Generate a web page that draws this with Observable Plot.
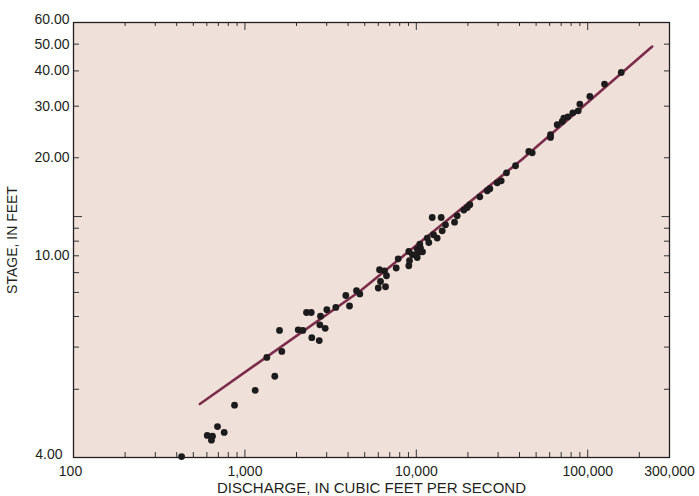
<!DOCTYPE html>
<html><head><meta charset="utf-8">
<script src="https://cdn.jsdelivr.net/npm/d3@7"></script>
<script src="https://cdn.jsdelivr.net/npm/@observablehq/plot@0.6"></script>
<style>body{margin:0;background:#fff;}</style>
</head><body><div id="chart"></div>
<script>
// Measured discharge (cfs) and stage (ft)
const discharge = [427, 603, 647, 638, 692, 757, 870, 1148, 1494, 1342, 1642, 1592, 2046, 2177, 2288, 2437, 2456, 2714, 2735, 2761, 2941, 3005, 3391, 3879, 4077, 4477, 4681, 5996, 6613, 6183, 6700, 6524, 6101, 7633, 7841, 9041, 9127, 9041, 10120, 10260, 10580, 10480, 10120, 11830, 11580, 13240, 12380, 13970, 14160, 14800, 16710, 17330, 18930, 19820, 20520, 23470, 25930, 26850, 29650, 31280, 33600, 37920, 45330, 47450, 60670, 60670, 66370, 71000, 72550, 76550, 81880, 88020, 89930, 102900, 125300, 156900, 9500, 10870, 12600];
const stage = [4.01, 4.26, 4.25, 4.20, 4.38, 4.30, 4.71, 4.98, 5.27, 5.72, 5.88, 6.51, 6.53, 6.51, 7.15, 7.15, 6.28, 6.19, 6.70, 7.01, 6.58, 7.26, 7.35, 7.86, 7.41, 8.08, 7.93, 8.21, 8.27, 8.53, 8.83, 9.10, 9.16, 9.26, 9.81, 9.39, 9.69, 10.28, 9.89, 10.21, 10.51, 10.79, 10.44, 10.90, 11.23, 11.23, 12.92, 12.92, 11.79, 12.28, 12.51, 13.07, 13.61, 13.86, 14.13, 14.96, 15.63, 15.86, 16.57, 16.82, 17.85, 18.82, 20.99, 20.78, 23.90, 23.40, 25.86, 26.54, 27.27, 27.55, 28.45, 28.91, 30.51, 32.45, 35.91, 39.49, 10.07, 10.26, 11.48];

// Rating curve
const ratingDischarge = [546, 4725, 41490, 237800];
const ratingStage = [4.73, 8.08, 19.77, 49.0];

// Axis ticks
const xTickLabels = [100, 1000, 10000, 100000, 300000];
const xMajorTicks = [1000, 10000, 100000];
const xMinorTicks = [200, 300, 400, 500, 600, 700, 800, 900, 2000, 3000, 4000, 5000, 6000, 7000, 8000, 9000, 20000, 30000, 40000, 50000, 60000, 70000, 80000, 90000, 200000];
const yTickLabels = [10, 20, 30, 40, 50];
const yBottomLabel = [4];
const yTopLabel = [60];
const yShortTicks = [5, 6, 7, 8, 9, 10, 11, 12, 20, 30, 40, 50];
const yLongTicks = [13];

const E = 2.8; // gage height of effective zero flow (axis offset)

const W = 699, H = 496, mL = 73, mR = 30, mT = 22, mB = 39;
const pw = W - mL - mR, ph = H - mT - mB;

const points = discharge.map((q, i) => ({q, g: stage[i]}));
const rating = ratingDischarge.map((q, i) => ({q, g: ratingStage[i]}));

const ink = "#231f20";
const tickStroke = "#333";
const fmtY = d => (d + E).toFixed(2);
const fmtX = d3.format(",");

const chart = Plot.plot({
  width: W, height: H,
  marginLeft: mL, marginRight: mR, marginTop: mT, marginBottom: mB,
  style: {fontFamily: "'Liberation Sans', Arial, Helvetica, sans-serif", fontSize: "14px", color: ink, background: "#fff"},
  x: {type: "log", domain: [99.999, 300002]},
  y: {type: "log", domain: [4 - E - 0.00001, 60 - E + 0.00001]},
  marks: [
    Plot.frame({fill: "#efe0da"}),
    // bottom ticks
    Plot.tickX(xMinorTicks, {x: d => d, insetTop: ph - 5, stroke: tickStroke}),
    Plot.tickX(xMajorTicks, {x: d => d, insetTop: ph - 7.5, stroke: tickStroke}),
    // top ticks
    Plot.tickX(xMinorTicks, {x: d => d, insetBottom: ph - 4, stroke: tickStroke}),
    Plot.tickX(xMajorTicks, {x: d => d, insetBottom: ph - 8, stroke: tickStroke}),
    // left ticks
    Plot.tickY(yShortTicks, {y: d => d - E, insetRight: pw - 6, stroke: tickStroke}),
    Plot.tickY(yLongTicks, {y: d => d - E, insetRight: pw - 9, stroke: tickStroke}),
    // right ticks
    Plot.tickY(yShortTicks, {y: d => d - E, insetLeft: pw - 5, stroke: tickStroke}),
    Plot.tickY(yLongTicks, {y: d => d - E, insetLeft: pw - 7.5, stroke: tickStroke}),
    // rating line
    Plot.line(rating, {x: "q", y: d => d.g - E, stroke: "#7b2d4a", strokeWidth: 2.6}),
    // measurements
    Plot.dot(points, {x: "q", y: d => d.g - E, r: 3.4, fill: "#1d1b1c", stroke: "none"}),
    // x tick labels
    Plot.text(xTickLabels.slice(1), {x: d => d, text: fmtX, frameAnchor: "bottom", lineAnchor: "top", dy: 9, fill: ink, fontSize: 14}),
    Plot.text(xTickLabels.slice(0, 1), {x: d => d, text: fmtX, frameAnchor: "bottom", lineAnchor: "top", dy: 9, dx: -3, fill: ink, fontSize: 14}),
    Plot.axisX([], {tickSize: 0, fill: ink, fontSize: 15,
      label: "DISCHARGE, IN CUBIC FEET PER SECOND", labelAnchor: "center", labelOffset: 35, labelArrow: "none"}),
    Plot.axisY(yTickLabels.map(d => d - E), {tickSize: 0, tickPadding: 4, tickFormat: fmtY, fill: ink,
      label: "STAGE, IN FEET", labelAnchor: "center", labelOffset: 66, labelArrow: "none"}),
    Plot.axisY(yBottomLabel.map(d => d - E), {tickSize: 0, tickPadding: 4, tickFormat: fmtY, fill: ink, dx: -7, dy: -3, label: null}),
    Plot.axisY(yTopLabel.map(d => d - E), {tickSize: 0, tickPadding: 4, tickFormat: fmtY, fill: ink, dy: -3, label: null}),
    Plot.frame({stroke: ink, strokeWidth: 1.3})
  ]
});
document.getElementById("chart").appendChild(chart);
</script>
</body></html>
